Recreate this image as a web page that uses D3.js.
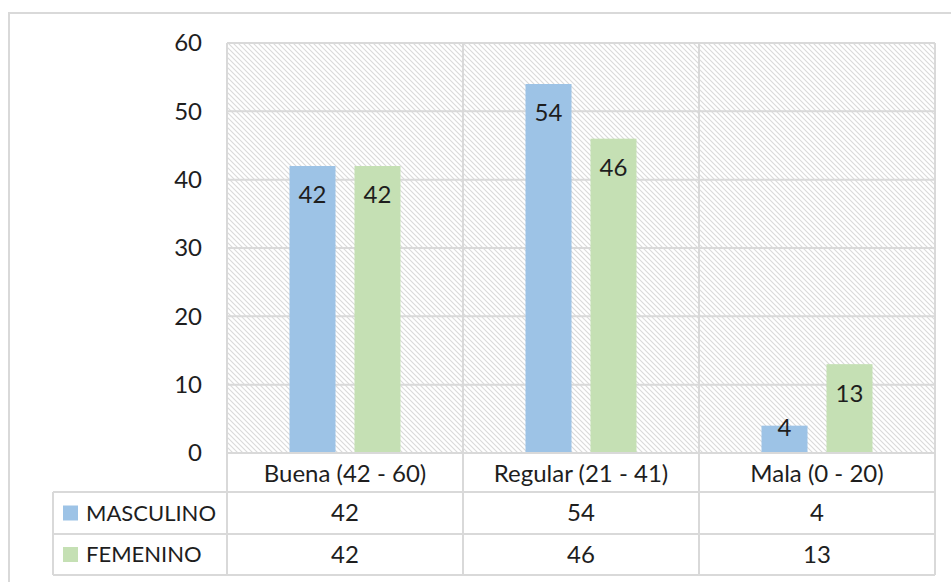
<!DOCTYPE html>
<html>
<head>
<meta charset="utf-8">
<script src="https://cdn.jsdelivr.net/npm/d3@7"></script>
<style>
  html, body { margin: 0; padding: 0; background: #fff; }
  svg { display: block; font-family: Lato, "Open Sans", sans-serif; }
</style>
</head>
<body>
<svg id="chart" width="951" height="582"></svg>
<script>
// Data
const categories = ["Buena (42 - 60)", "Regular (21 - 41)", "Mala (0 - 20)"];
const seriesNames = ["MASCULINO", "FEMENINO"];
const masculino = [42, 54, 4];
const femenino = [42, 46, 13];
const yTicks = [0, 10, 20, 30, 40, 50, 60];

const seriesValues = [masculino, femenino];
const colors = ["#9dc3e6", "#c5e0b4"];
const gridColor = "#d9d9d9";
const textColor = "#1e1e1e";
const fontSize = 24;

const svg = d3.select("#chart");

// Hatched plot background
const defs = svg.append("defs");
const pat = defs.append("pattern")
  .attr("id", "hatch")
  .attr("patternUnits", "userSpaceOnUse")
  .attr("width", 5).attr("height", 5);
pat.append("rect").attr("width", 5).attr("height", 5).attr("fill", "#fff");
pat.append("path")
  .attr("d", "M-1,-1 L6,6 M-1,4 L1,6 M4,-1 L6,1")
  .attr("stroke", "#dadada").attr("stroke-width", 1.1);

// Outer chart frame
svg.append("rect")
  .attr("x", 9).attr("y", 13).attr("width", 960).attr("height", 620)
  .attr("fill", "none").attr("stroke", gridColor).attr("stroke-width", 2);

const plotLeft = 227, plotRight = 935, plotTop = 43, plotBottom = 453;
const tableLeft = 53;
const rowLines = [492, 534, 575];

const x = d3.scaleBand().domain(categories).range([plotLeft, plotRight]).padding(0);
const bw = x.bandwidth();
const xs = d3.scaleBand().domain(seriesNames).range([0, bw])
  .paddingInner(0.292).paddingOuter(0.962);
const y = d3.scaleLinear().domain([0, 60]).range([plotBottom, plotTop]);

// Plot background
svg.append("rect")
  .attr("x", plotLeft).attr("y", plotTop)
  .attr("width", plotRight - plotLeft).attr("height", plotBottom - plotTop)
  .attr("fill", "url(#hatch)");

// Horizontal gridlines
svg.append("g").selectAll("line").data(yTicks).join("line")
  .attr("x1", plotLeft).attr("x2", plotRight)
  .attr("y1", d => y(d)).attr("y2", d => y(d))
  .attr("stroke", gridColor).attr("stroke-width", 2);

// Y axis labels
const yAxis = d3.axisLeft(y).tickValues(yTicks).tickSize(0).tickPadding(0);
const yg = svg.append("g").attr("transform", `translate(${plotLeft - 25},0)`).call(yAxis);
yg.select(".domain").remove();
yg.selectAll("text")
  .attr("font-size", fontSize).attr("font-family", "Lato, sans-serif")
  .attr("fill", textColor);

// Bars
const barData = [];
categories.forEach((c, i) => {
  seriesNames.forEach((s, j) => {
    barData.push({ cat: c, series: s, value: seriesValues[j][i], color: colors[j] });
  });
});

svg.append("g").selectAll("rect").data(barData).join("rect")
  .attr("x", d => x(d.cat) + xs(d.series))
  .attr("y", d => y(d.value))
  .attr("width", xs.bandwidth())
  .attr("height", d => y(0) - y(d.value))
  .attr("fill", d => d.color);

// Value labels inside the bar ends
svg.append("g").selectAll("text").data(barData).join("text")
  .attr("x", d => x(d.cat) + xs(d.series) + xs.bandwidth() / 2)
  .attr("y", d => Math.min(y(d.value) + 29, y(0) - 25))
  .attr("dy", "0.35em")
  .attr("text-anchor", "middle")
  .attr("font-size", fontSize)
  .attr("fill", textColor)
  .text(d => d.value);

// Data table grid
const grid = svg.append("g").attr("stroke", gridColor).attr("stroke-width", 2);
// Category separators running from plot top through the table
x.domain().concat([null]).forEach(c => {
  const xx = c === null ? plotRight : x(c);
  grid.append("line")
    .attr("x1", xx).attr("x2", xx)
    .attr("y1", plotTop).attr("y2", rowLines[2]);
});
grid.append("line").attr("x1", plotLeft).attr("x2", plotRight)
  .attr("y1", plotBottom).attr("y2", plotBottom);
rowLines.forEach(ry => {
  grid.append("line").attr("x1", tableLeft).attr("x2", plotRight)
    .attr("y1", ry).attr("y2", ry);
});
grid.append("line").attr("x1", tableLeft).attr("x2", tableLeft)
  .attr("y1", rowLines[0]).attr("y2", rowLines[2]);

// Category header row
svg.append("g").selectAll("text").data(categories).join("text")
  .attr("x", d => x(d) + bw / 2)
  .attr("y", (plotBottom + rowLines[0]) / 2 + 1)
  .attr("dy", "0.35em")
  .attr("text-anchor", "middle")
  .attr("font-size", fontSize)
  .attr("fill", textColor)
  .text(d => d);

// Series rows: legend key, name and values
seriesNames.forEach((s, j) => {
  const cy = (rowLines[j] + rowLines[j + 1]) / 2;
  svg.append("rect")
    .attr("x", 63).attr("y", cy - 7.5).attr("width", 15).attr("height", 15)
    .attr("fill", colors[j]);
  svg.append("text")
    .attr("x", 86).attr("y", cy).attr("dy", "0.35em")
    .attr("font-size", 22).attr("fill", textColor)
    .text(s);
  svg.append("g").selectAll("text").data(categories).join("text")
    .attr("x", d => x(d) + bw / 2)
    .attr("y", cy).attr("dy", "0.35em")
    .attr("text-anchor", "middle")
    .attr("font-size", fontSize).attr("fill", textColor)
    .text((d, i) => seriesValues[j][i]);
});
</script>
</body>
</html>
